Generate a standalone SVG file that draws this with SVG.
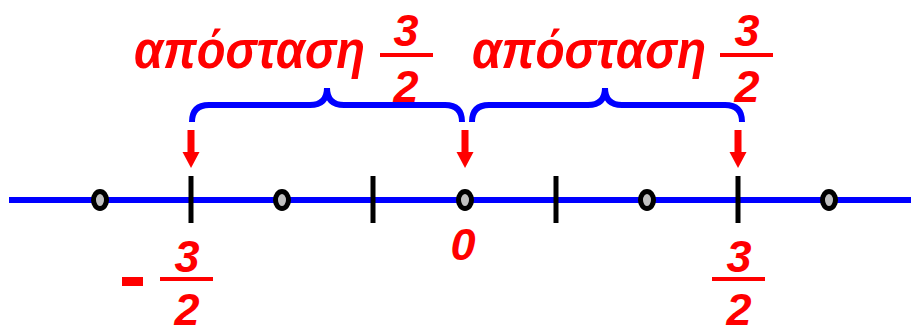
<svg xmlns="http://www.w3.org/2000/svg" width="911" height="325" viewBox="0 0 911 325">
<defs>
<style>
.t{font-family:"Liberation Sans",Arial,sans-serif;font-weight:bold;font-style:italic;fill:#ff0000}
.w{font-size:53px}
.n{font-size:45px;text-anchor:middle}
.bar{fill:#ff0000}
.brace{fill:none;stroke:#0000ff;stroke-width:6;stroke-linecap:butt}
.tick{stroke:#000;stroke-width:5}
.pt{fill:#c0c0c0;stroke:#000;stroke-width:5}
.axis{stroke:#0000ff;stroke-width:6}
</style>
<g id="arrowShape"><rect x="-3.5" y="0" width="7" height="23" fill="#ff0000"/><polygon points="-8.5,22 8.5,22 0,38" fill="#ff0000"/></g>
</defs>
<rect width="911" height="325" fill="#ffffff"/>
<g id="axis"><line class="axis" x1="9" y1="200" x2="911" y2="200"/></g>
<g id="ticks">
<line class="tick" x1="191" y1="176" x2="191" y2="223"/>
<line class="tick" x1="373" y1="176" x2="373" y2="223"/>
<line class="tick" x1="556" y1="176" x2="556" y2="223"/>
<line class="tick" x1="738" y1="176" x2="738" y2="223"/>
</g>
<g id="points">
<ellipse class="pt" cx="100" cy="200" rx="6.5" ry="8.5"/>
<ellipse class="pt" cx="282" cy="200" rx="6.5" ry="8.5"/>
<ellipse class="pt" cx="465" cy="200" rx="6.5" ry="8.5"/>
<ellipse class="pt" cx="647" cy="200" rx="6.5" ry="8.5"/>
<ellipse class="pt" cx="829" cy="200" rx="6.5" ry="8.5"/>
</g>
<g id="connectors">
<path class="brace" d="M192,122 Q192,105 209,105 L310,105 Q327,105 327,88 Q327,105 344,105 L445,105 Q462,105 462,122"/>
<path class="brace" d="M472,122 Q472,105 489,105 L588,105 Q605,105 605,88 Q605,105 622,105 L725,105 Q742,105 742,122"/>
<use href="#arrowShape" x="191" y="130"/>
<use href="#arrowShape" x="465" y="130"/>
<use href="#arrowShape" x="738" y="130"/>
</g>
<g id="label-left">
<text class="t w" x="134" y="68" textLength="231" lengthAdjust="spacingAndGlyphs">απόσταση</text>
<text class="t n" x="406" y="46">3</text>
<rect class="bar" x="380" y="53" width="53" height="4"/>
<text class="t n" x="406" y="102">2</text>
</g>
<g id="label-right">
<text class="t w" x="472" y="68" textLength="234" lengthAdjust="spacingAndGlyphs">απόσταση</text>
<text class="t n" x="747" y="46">3</text>
<rect class="bar" x="720" y="53" width="53" height="4"/>
<text class="t n" x="747" y="102">2</text>
</g>
<g id="label-minus">
<rect class="bar" x="122" y="277" width="21" height="9"/>
<text class="t n" x="187" y="272">3</text>
<rect class="bar" x="160" y="277" width="53" height="4"/>
<text class="t n" x="187" y="325">2</text>
</g>
<g id="label-zero">
<text class="t n" x="463" y="260">0</text>
</g>
<g id="label-plus">
<text class="t n" x="739" y="272">3</text>
<rect class="bar" x="712" y="277" width="53" height="4"/>
<text class="t n" x="739" y="325">2</text>
</g>
</svg>
